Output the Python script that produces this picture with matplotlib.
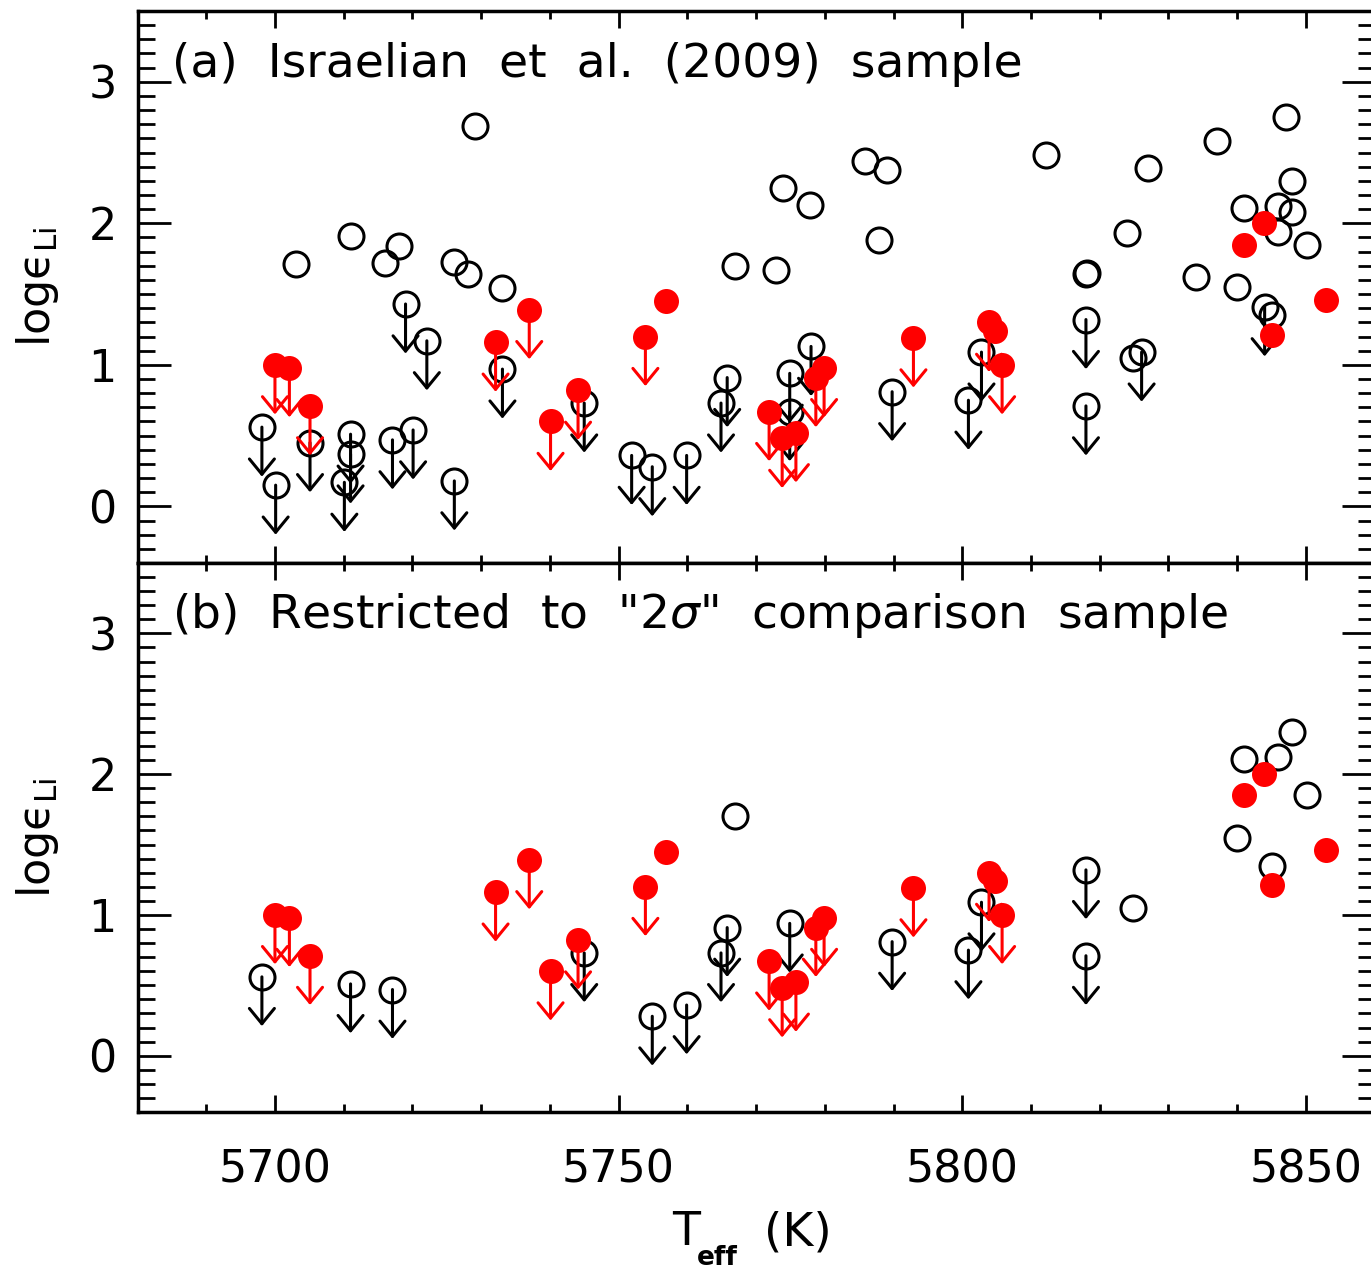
import matplotlib.pyplot as plt
from matplotlib.ticker import MultipleLocator

# open circles: stars of Israelian et al. (2009) without planets
teff_open = [5729.1, 5703.1, 5711.0, 5718.1, 5716.0, 5726.1, 5728.1, 5733.1,
             5719.0, 5722.1, 5733.1, 5698.1, 5700.1, 5705.1, 5711.0, 5711.0,
             5710.1, 5717.1, 5720.1, 5726.1, 5745.0, 5767.0, 5772.9, 5773.9,
             5777.8, 5785.9, 5789.0, 5787.9, 5765.8, 5764.9, 5751.9, 5754.9,
             5759.9, 5774.9, 5774.9, 5778.0, 5789.8, 5800.9, 5802.8, 5812.2,
             5827.1, 5837.0, 5847.1, 5824.0, 5818.0, 5818.1, 5848.0, 5841.0,
             5846.0, 5848.0, 5846.0, 5850.1, 5834.0, 5840.0, 5844.0, 5845.1,
             5818.0, 5818.0, 5826.1, 5824.9]
li_open = [2.69, 1.71, 1.91, 1.84, 1.72, 1.73, 1.64, 1.54,
           1.43, 1.17, 0.97, 0.56, 0.15, 0.45, 0.51, 0.37,
           0.17, 0.47, 0.54, 0.18, 0.73, 1.70, 1.67, 2.25,
           2.13, 2.44, 2.38, 1.88, 0.91, 0.73, 0.36, 0.28,
           0.36, 0.94, 0.67, 1.13, 0.81, 0.75, 1.09, 2.48,
           2.39, 2.58, 2.75, 1.93, 1.64, 1.65, 2.30, 2.11,
           2.12, 2.08, 1.94, 1.85, 1.62, 1.55, 1.41, 1.35,
           1.32, 0.71, 1.09, 1.05]
# 1 = upper limit
lim_open = [0, 0, 0, 0, 0, 0, 0, 0,
            1, 1, 1, 1, 1, 1, 1, 1,
            1, 1, 1, 1, 1, 0, 0, 0,
            0, 0, 0, 0, 1, 1, 1, 1,
            1, 1, 1, 1, 1, 1, 1, 0,
            0, 0, 0, 0, 0, 0, 0, 0,
            0, 0, 0, 0, 0, 0, 1, 0,
            1, 1, 1, 0]
# 1 = kept in the "2 sigma" comparison sample
in2s_open = [0, 0, 0, 0, 0, 0, 0, 0,
             0, 0, 0, 1, 0, 0, 1, 0,
             0, 1, 0, 0, 1, 1, 0, 0,
             0, 0, 0, 0, 1, 1, 0, 1,
             1, 1, 0, 0, 1, 1, 1, 0,
             0, 0, 0, 0, 0, 0, 1, 1,
             1, 0, 0, 1, 0, 1, 0, 1,
             1, 1, 0, 1]

# filled red: planet hosts
teff_red = [5700.0, 5702.1, 5705.1, 5732.1, 5737.0, 5740.1, 5744.1, 5753.9,
            5756.9, 5771.9, 5773.8, 5775.8, 5778.7, 5779.9, 5792.9, 5803.9,
            5804.8, 5805.8, 5841.0, 5843.9, 5845.0, 5853.0]
li_red = [1.00, 0.98, 0.71, 1.16, 1.39, 0.60, 0.82, 1.20,
          1.45, 0.67, 0.48, 0.52, 0.91, 0.98, 1.19, 1.30,
          1.24, 1.00, 1.85, 2.00, 1.21, 1.46]
lim_red = [1, 1, 1, 1, 1, 1, 1, 1,
           0, 1, 1, 1, 1, 1, 1, 1,
           0, 1, 0, 0, 0, 0]

ticks_y = [0, 1, 2, 3]
ticks_x = [5700, 5750, 5800, 5850]
labels = ['(a)  Israelian  et  al.  (2009)  sample',
          '(b)  Restricted  to  "2$\\sigma$"  comparison  sample']

arrow_len = 0.35


def arrow(ax, x, y, c, z):
    ax.annotate('', xy=(x, y - arrow_len), xytext=(x, y),
                arrowprops=dict(arrowstyle='->,head_length=0.55,head_width=0.45',
                                lw=2.2, color=c, shrinkA=0, shrinkB=0,
                                mutation_scale=20),
                zorder=z)


def panel(ax, restrict, label):
    for t, v, l, k in zip(teff_open, li_open, lim_open, in2s_open):
        if restrict and not k:
            continue
        ax.plot(t, v, 'o', ms=18, mfc='none', mec='k', mew=2.2, zorder=3)
        if l:
            arrow(ax, t, v, 'k', 2)
    for t, v, l in zip(teff_red, li_red, lim_red):
        ax.plot(t, v, 'o', ms=18, mfc='red', mec='none', zorder=5)
        if l:
            arrow(ax, t, v, 'red', 4)

    ax.set_xlim(5680, 5860)
    ax.set_ylim(-0.4, 3.5)
    ax.set_xticks(ticks_x)
    ax.set_yticks(ticks_y)
    ax.xaxis.set_minor_locator(MultipleLocator(10))
    ax.yaxis.set_minor_locator(MultipleLocator(0.1))
    ax.tick_params(which='both', direction='in', top=True, right=True, width=2)
    ax.tick_params(axis='x', which='major', length=12)
    ax.tick_params(axis='x', which='minor', length=6)
    ax.tick_params(axis='y', which='major', length=24)
    ax.tick_params(axis='y', which='minor', length=12)
    ax.tick_params(axis='y', labelsize=32, pad=15)
    ax.tick_params(axis='x', labelsize=32, pad=26)
    for s in ax.spines.values():
        s.set_linewidth(2.5)
    ax.set_ylabel('log\u03f5$_{\\mathregular{Li}}$', fontsize=32)
    ax.yaxis.set_label_coords(-0.062, 0.5)
    ax.text(0.028, 0.881, label, transform=ax.transAxes, fontsize=34,
            va='baseline', ha='left')


W, H = 1371, 1275
fig = plt.figure(figsize=(W / 100, H / 100), dpi=100)
left = 137.5 / W
width = (1374.6 - 137.5) / W
ax_a = fig.add_axes([left, 1 - 563 / H, width, (563 - 11) / H])
ax_b = fig.add_axes([left, 1 - 1112 / H, width, (1112 - 563) / H])

panel(ax_a, False, labels[0])
panel(ax_b, True, labels[1])
ax_a.tick_params(axis='x', labelbottom=False)

# x title with a deep subscript, as in the original
fig.text(672 / W, 1 - 1245 / H, 'T', fontsize=33, va='baseline', ha='left')
fig.text(697 / W, 1 - 1265 / H, 'eff', fontsize=19, fontweight='bold',
         va='baseline', ha='left')
fig.text(764 / W, 1 - 1245 / H, '(K)', fontsize=34, va='baseline', ha='left')

fig.savefig('out.png', dpi=100)
